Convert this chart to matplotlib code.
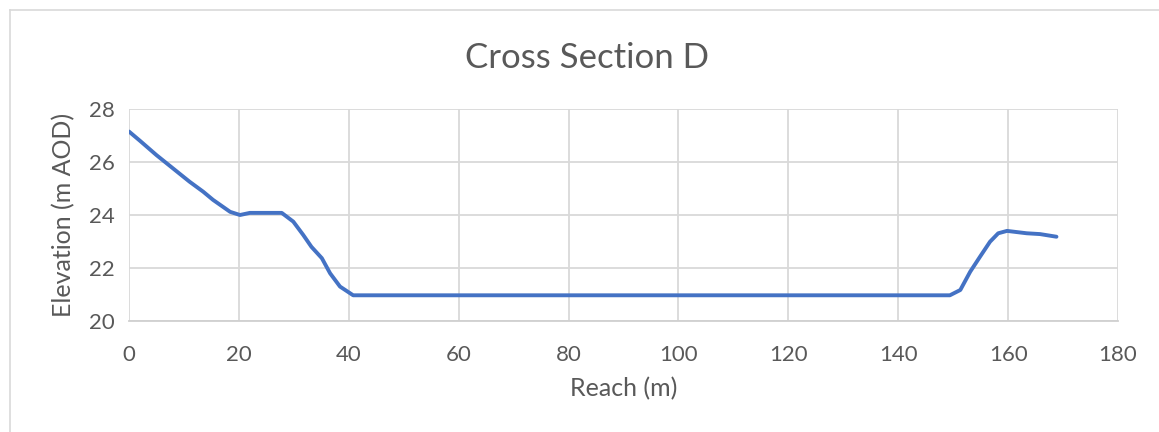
import matplotlib
matplotlib.use("Agg")
import matplotlib.pyplot as plt
from matplotlib.lines import Line2D

reach = [0, 2, 5, 8, 11, 13.5, 15.3, 18.4, 20.2, 22, 27.8, 29.9, 31.7, 33.2, 35.1, 36.6, 38.4, 40.8,
         60, 100, 149.4, 151.3, 153.1, 154.9, 156.7, 158.2, 159.8, 163.4, 165.8, 168.8]
elev = [27.15, 26.8, 26.26, 25.76, 25.26, 24.88, 24.57, 24.12, 24.0, 24.08, 24.08, 23.75, 23.25, 22.8,
        22.37, 21.8, 21.3, 20.97, 20.97, 20.97, 20.97, 21.17, 21.86, 22.43, 22.99, 23.31, 23.4,
        23.31, 23.28, 23.18]
xticks = [0, 20, 40, 60, 80, 100, 120, 140, 160, 180]
yticks = [20, 22, 24, 26, 28]

plt.rcParams['font.family'] = ['Lato', 'DejaVu Sans']
fig = plt.figure(figsize=(11.59, 4.32), dpi=100)
ax = fig.add_axes([129/1159, 1-321/432, (1118-129)/1159, (321-109)/432])

ax.plot(reach, elev, color='#4472C4', linewidth=2.8, solid_capstyle='round', solid_joinstyle='round')
ax.set_xlim(0, 180)
ax.set_ylim(20, 28)
ax.set_xticks(xticks)
ax.set_yticks(yticks)
ax.grid(True, color='#d9d9d9', linewidth=1.3)
ax.set_axisbelow(True)
for s in ['top', 'right', 'left']:
    ax.spines[s].set_visible(False)
ax.spines['bottom'].set_color('#d0d0d0')
ax.spines['bottom'].set_linewidth(1.3)
ax.tick_params(axis='x', length=0, labelsize=16, colors='#595959', pad=17)
ax.tick_params(axis='y', length=0, labelsize=16, colors='#595959', pad=10)
ax.set_xlabel('Reach (m)', fontsize=18, color='#595959', labelpad=9)
ax.set_ylabel('Elevation (m AOD)', fontsize=18, color='#595959', labelpad=10)
fig.text(587/1159, 1-58/432, 'Cross Section D', fontsize=25, color='#595959', ha='center', va='center')

# chart border
fig.add_artist(Line2D([10/1159, 10/1159], [0, 1-10/432], color='#d9d9d9', linewidth=1.2, transform=fig.transFigure))
fig.add_artist(Line2D([10/1159, 1], [1-10/432, 1-10/432], color='#d9d9d9', linewidth=1.2, transform=fig.transFigure))

fig.savefig('out.png', dpi=100, facecolor='white')
